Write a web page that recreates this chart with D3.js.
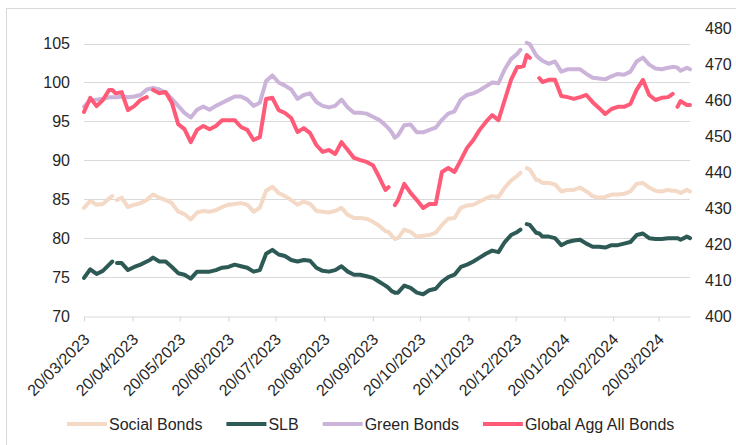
<!DOCTYPE html>
<html>
<head>
  <meta charset="utf-8">
  <script src="https://d3js.org/d3.v7.min.js"></script>
  <style>
    body {
      margin: 0;
      background: #ffffff;
    }
    svg {
      display: block;
      font-family: "Liberation Sans", Arial, sans-serif;
    }
  </style>
</head>
<body>
<script>
  "use strict";

  // observation dates, one value per series per date, null = gap in the data
  var dates = [
    "2023-03-20","2023-03-24","2023-03-28","2023-04-01","2023-04-05","2023-04-07","2023-04-09","2023-04-10","2023-04-13","2023-04-17","2023-04-21","2023-04-25",
    "2023-04-29","2023-05-01","2023-05-03","2023-05-07","2023-05-11","2023-05-15","2023-05-19","2023-05-23","2023-05-27","2023-05-31","2023-06-04",
    "2023-06-08","2023-06-12","2023-06-16","2023-06-20","2023-06-24","2023-06-28","2023-07-02","2023-07-06","2023-07-10","2023-07-14",
    "2023-07-18","2023-07-22","2023-07-26","2023-07-30","2023-08-03","2023-08-07","2023-08-11","2023-08-15","2023-08-19","2023-08-23",
    "2023-08-27","2023-08-31","2023-09-04","2023-09-08","2023-09-12","2023-09-16","2023-09-20","2023-09-24","2023-09-28","2023-09-30","2023-10-02","2023-10-04",
    "2023-10-06","2023-10-10","2023-10-14","2023-10-18","2023-10-22","2023-10-26","2023-10-30","2023-11-03","2023-11-07","2023-11-11",
    "2023-11-15","2023-11-19","2023-11-23","2023-11-27","2023-12-01","2023-12-05","2023-12-09","2023-12-13","2023-12-17","2023-12-21",
    "2023-12-23","2023-12-25","2023-12-27","2023-12-29","2024-01-02","2024-01-04","2024-01-06","2024-01-10","2024-01-14","2024-01-18","2024-01-22","2024-01-26","2024-01-30",
    "2024-02-03","2024-02-07","2024-02-11","2024-02-15","2024-02-19","2024-02-23","2024-02-27","2024-03-02","2024-03-06","2024-03-10",
    "2024-03-14","2024-03-18","2024-03-22","2024-03-26","2024-03-29","2024-03-30","2024-04-01","2024-04-03","2024-04-07","2024-04-09"
  ];

  var social = [
    83.9, 84.8, 84.3, 84.4, 85.1, 85.4, null, 84.9, 85.2, 84.0, 84.3, 84.5,
    84.9, 85.3, 85.6, 85.2, 84.9, 84.5, 83.4, 83.1, 82.4, 83.3, 83.5,
    83.4, 83.6, 84.0, 84.3, 84.4, 84.5, 84.3, 83.4, 83.9, 86.1,
    86.6, 85.8, 85.4, 84.9, 84.3, 84.7, 84.4, 83.5, 83.4, 83.3,
    83.5, 83.9, 83.0, 82.6, 82.6, 82.5, 82.1, 81.6, 80.9, 80.8, 80.3, 79.9,
    80.0, 81.1, 80.8, 80.2, 80.3, 80.4, 80.7, 81.7, 82.5, 82.6,
    83.9, 84.2, 84.3, 84.7, 85.1, 85.4, 85.3, 86.5, 87.4, 88.0,
    88.4, null, 89.0, 88.8, 87.5, 87.4, 87.1, 87.1, 86.9, 86.0, 86.2, 86.2, 86.5,
    86.0, 85.4, 85.2, 85.3, 85.6, 85.6, 85.7, 86.0, 87.0, 87.1,
    86.5, 86.1, 86.0, 86.2, 86.1, 86.1, 86.0, 85.8, 86.2, 86.0
  ];

  var slb = [
    74.9, 76.0, 75.4, 75.8, 76.6, 77.0, null, 76.8, 76.8, 75.9, 76.3, 76.6,
    77.0, 77.2, 77.5, 77.0, 77.0, 76.3, 75.5, 75.3, 74.8, 75.7, 75.7,
    75.7, 75.9, 76.2, 76.3, 76.6, 76.4, 76.2, 75.7, 75.9, 78.0,
    78.5, 77.9, 77.7, 77.2, 77.0, 77.2, 77.1, 76.2, 75.8, 75.7,
    75.9, 76.4, 75.7, 75.3, 75.3, 75.1, 74.9, 74.4, 73.9, 73.6, 73.2, 73.0,
    73.0, 73.9, 73.6, 73.0, 72.8, 73.3, 73.5, 74.4, 75.0, 75.3,
    76.3, 76.6, 77.0, 77.5, 78.0, 78.4, 78.2, 79.5, 80.4, 80.8,
    81.1, null, 81.8, 81.7, 80.7, 80.6, 80.2, 80.2, 80.0, 79.1, 79.5, 79.7, 79.8,
    79.3, 78.9, 78.9, 78.8, 79.1, 79.1, 79.3, 79.5, 80.4, 80.6,
    80.0, 79.9, 79.9, 80.0, 80.0, 80.0, 80.0, 79.8, 80.2, 80.0
  ];

  var green = [
    96.9, 97.7, 97.8, 97.9, 98.1, 98.1, 98.1, 98.1, 98.2, 98.1, 98.2, 98.4,
    99.1, 99.2, 99.3, 99.1, 98.7, 97.9, 97.0, 96.1, 95.5, 96.5, 96.9,
    96.5, 97.0, 97.4, 97.8, 98.2, 98.2, 97.8, 97.0, 97.4, 100.2,
    100.9, 100.0, 99.6, 99.1, 97.9, 98.4, 98.6, 97.5, 97.0, 96.8,
    97.0, 97.8, 96.8, 96.1, 96.1, 96.0, 95.6, 95.2, 94.5, 94.1, 93.6, 92.9,
    93.2, 94.5, 94.6, 93.6, 93.6, 93.9, 94.2, 95.2, 96.0, 96.3,
    97.8, 98.4, 98.6, 99.0, 99.5, 100.0, 99.9, 101.7, 103.0, 103.7,
    104.2, null, 105.1, 104.9, 103.5, 103.1, 102.8, 102.4, 102.7, 101.4, 101.7, 101.7, 101.7,
    101.1, 100.6, 100.5, 100.4, 100.8, 101.1, 101.0, 101.4, 102.7, 103.2,
    102.3, 101.8, 101.7, 101.9, 102.0, 102.0, 101.9, 101.5, 101.9, 101.7
  ];

  // plotted against the right hand axis
  var globalAgg = [
    456.7, 460.6, 458.3, 460.0, 462.8, 462.8, 461.9, 461.9, 462.2, 457.2, 458.3, 460.0,
    460.8, null, 462.8, 461.9, 462.2, 459.2, 453.3, 451.9, 448.3, 451.7, 452.8,
    451.9, 452.8, 454.4, 454.4, 454.4, 452.5, 451.7, 448.9, 449.7, 460.3,
    460.6, 457.2, 456.4, 455.0, 451.1, 452.2, 450.8, 447.5, 445.6, 446.1,
    445.0, 448.3, 446.1, 443.9, 443.3, 442.8, 441.9, 438.6, 435.0, 435.8, null, 430.8,
    432.2, 436.7, 434.2, 432.2, 430.0, 431.1, 431.1, 440.0, 441.1, 440.0,
    443.3, 446.7, 448.9, 451.7, 453.9, 455.8, 454.4, 460.0, 465.6, 469.2,
    469.2, 469.4, 472.5, 471.7, null, 466.1, 465.0, 465.6, 465.6, 461.1, 460.8, 460.3, 460.8,
    461.4, 459.4, 457.8, 456.1, 457.5, 458.1, 458.1, 458.9, 462.8, 465.6,
    461.4, 460.0, 460.6, 460.8, 461.7, null, 458.1, 459.7, 458.6, 458.6
  ];

  var seriesNames = ["Social Bonds", "SLB", "Green Bonds", "Global Agg All Bonds"];
  var seriesColors = ["#f3d9c6", "#2e5a55", "#cbb3d9", "#ff5a78"];

  var tickLabels = ["20/03/2023", "20/04/2023", "20/05/2023", "20/06/2023", "20/07/2023",
    "20/08/2023", "20/09/2023", "20/10/2023", "20/11/2023", "20/12/2023",
    "20/01/2024", "20/02/2024", "20/03/2024"];
  var leftTicks = [70, 75, 80, 85, 90, 95, 100, 105];
  var rightTicks = [400, 410, 420, 430, 440, 450, 460, 470, 480];

  var width = 736,
      height = 445;
  var plot = {left: 84, right: 690, top: 28, bottom: 316};

  var parseDate = d3.timeParse("%Y-%m-%d");
  var parseTick = d3.timeParse("%d/%m/%Y");
  var textColor = "#262626";
  var gridColor = "#d9d9d9";
  var font = "'Liberation Sans', Arial, sans-serif";

  var svg = d3.select("body")
    .append("svg")
      .attr("width", width)
      .attr("height", height);

  // chart frame (runs off the right/bottom edge like the original)
  svg.append("rect")
    .attr("x", 6.5)
    .attr("y", 8.5)
    .attr("width", 800)
    .attr("height", 500)
    .style("fill", "none")
    .style("stroke", gridColor);

  var x = d3.scaleTime()
    .domain([parseDate("2023-03-20"), parseDate("2024-04-09")])
    .range([plot.left, plot.right]);

  var yLeft = d3.scaleLinear()
    .domain([70, 107])
    .range([plot.bottom, plot.top]);

  var yRight = d3.scaleLinear()
    .domain([400, 480])
    .range([plot.bottom, plot.top]);

  // horizontal gridlines from the left axis
  svg.append("g")
    .selectAll("line")
    .data(leftTicks.slice(1))
    .enter()
    .append("line")
      .attr("x1", plot.left)
      .attr("x2", plot.right)
      .attr("y1", function (d) { return Math.round(yLeft(d)) + 0.5; })
      .attr("y2", function (d) { return Math.round(yLeft(d)) + 0.5; })
      .style("stroke", gridColor)
      .style("stroke-width", 1.2);

  // left axis labels
  var gLeft = svg.append("g")
    .attr("transform", "translate(" + plot.left + ",0)")
    .call(d3.axisLeft(yLeft).tickValues(leftTicks).tickSize(0).tickPadding(14));
  gLeft.select(".domain").remove();
  gLeft.selectAll("text")
    .style("font-size", "16px")
    .style("font-family", font)
    .style("fill", textColor);

  // right axis labels
  var gRight = svg.append("g")
    .attr("transform", "translate(" + plot.right + ",0)")
    .call(d3.axisRight(yRight).tickValues(rightTicks).tickSize(0).tickPadding(15));
  gRight.select(".domain").remove();
  gRight.selectAll("text")
    .style("font-size", "16px")
    .style("font-family", font)
    .style("fill", textColor);

  // date axis, labels slanted at 45 degrees
  var tickDates = tickLabels.map(parseTick);
  var gBottom = svg.append("g")
    .attr("transform", "translate(0," + (plot.bottom + 0.5) + ")")
    .call(d3.axisBottom(x)
      .tickValues(tickDates)
      .tickSize(5)
      .tickSizeOuter(0)
      .tickFormat(function (d, i) { return tickLabels[i]; }));
  gBottom.select(".domain").style("stroke", gridColor).style("stroke-width", 1.2);
  gBottom.selectAll(".tick line").style("stroke", gridColor).style("stroke-width", 1.2);
  gBottom.selectAll("text")
    .attr("x", 0)
    .attr("y", 0)
    .attr("dy", 0)
    .attr("transform", "translate(6,24) rotate(-45)")
    .style("text-anchor", "end")
    .style("font-size", "16px")
    .style("font-family", font)
    .style("fill", textColor);

  // the lines
  var allSeries = [
    {values: social, y: yLeft},
    {values: slb, y: yLeft},
    {values: green, y: yLeft},
    {values: globalAgg, y: yRight}
  ];

  allSeries.forEach(function (s, k) {
    var pts = dates.map(function (d, i) { return {date: parseDate(d), v: s.values[i]}; });
    var line = d3.line()
      .defined(function (d) { return d.v !== null; })
      .x(function (d) { return x(d.date); })
      .y(function (d) { return s.y(d.v); });

    svg.append("path")
      .datum(pts)
      .attr("d", line)
      .style("fill", "none")
      .style("stroke", seriesColors[k])
      .style("stroke-width", 4)
      .style("stroke-linejoin", "round")
      .style("stroke-linecap", "round");
  });

  // legend along the bottom
  var legendY = 424;
  var lx = 67;
  seriesNames.forEach(function (name, k) {
    svg.append("line")
      .attr("x1", lx)
      .attr("x2", lx + 40)
      .attr("y1", legendY)
      .attr("y2", legendY)
      .style("stroke", seriesColors[k])
      .style("stroke-width", 4);
    var t = svg.append("text")
      .attr("x", lx + 42)
      .attr("y", legendY)
      .attr("dy", "0.35em")
      .style("font-size", "16px")
      .style("fill", textColor)
      .text(name);
    lx += 42 + t.node().getComputedTextLength() + 24;
  });
</script>
</body>
</html>
